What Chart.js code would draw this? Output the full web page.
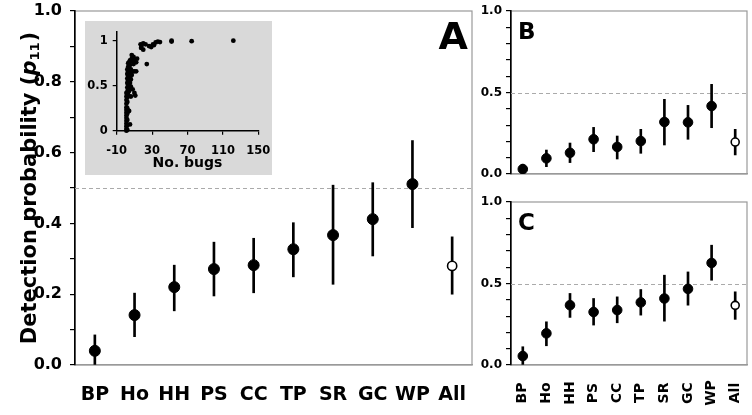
<!DOCTYPE html>
<html>
<head>
<meta charset="utf-8">
<script src="https://cdn.jsdelivr.net/npm/chart.js@4.4.1/dist/chart.umd.min.js"></script>
<style>
  html, body { margin: 0; padding: 0; background: #fff; }
  #wrap { position: relative; width: 752px; height: 415px; overflow: hidden; }
  .box { position: absolute; }
</style>
</head>
<body>
<div id="wrap">
  <div class="box" style="left:0;top:0;width:480px;height:415px"><canvas id="chartA" width="480" height="415"></canvas></div>
  <div class="box" style="left:85px;top:21px;width:187px;height:154px;background:#d9d9d9"><canvas id="inset" width="187" height="154"></canvas></div>
  <div class="box" style="left:480px;top:0;width:272px;height:190px"><canvas id="chartB" width="272" height="190"></canvas></div>
  <div class="box" style="left:480px;top:190px;width:272px;height:225px"><canvas id="chartC" width="272" height="225"></canvas></div>
</div>
<script>
// sites (x categories)
const sites = ['BP', 'Ho', 'HH', 'PS', 'CC', 'TP', 'SR', 'GC', 'WP', 'All'];

// panel A: detection probability with lower / upper interval
const pA  = [0.040, 0.141, 0.220, 0.271, 0.282, 0.327, 0.367, 0.412, 0.511, 0.280];
const loA = [0.000, 0.080, 0.153, 0.195, 0.204, 0.249, 0.228, 0.308, 0.388, 0.200];
const hiA = [0.085, 0.203, 0.282, 0.347, 0.358, 0.402, 0.508, 0.515, 0.634, 0.362];

// panel B
const pB  = [0.030, 0.096, 0.130, 0.213, 0.166, 0.202, 0.319, 0.317, 0.417, 0.196];
const loB = [0.005, 0.045, 0.070, 0.137, 0.092, 0.127, 0.178, 0.213, 0.284, 0.117];
const hiB = [0.060, 0.147, 0.190, 0.286, 0.233, 0.274, 0.458, 0.421, 0.550, 0.274];

// panel C
const pC  = [0.055, 0.194, 0.367, 0.325, 0.337, 0.384, 0.408, 0.467, 0.626, 0.366];
const loC = [0.000, 0.118, 0.292, 0.245, 0.259, 0.306, 0.269, 0.367, 0.520, 0.280];
const hiC = [0.112, 0.265, 0.439, 0.408, 0.418, 0.463, 0.551, 0.571, 0.735, 0.449];

// inset: number of bugs vs detection probability
const bugsX = [
  1,1,1,1,1,1,1,1,1,1,1,1,1,1,
  2,2,2,2,2,2,2,2,2,2,2,2,2,
  3,3,3,3,3,3,3,3,
  4,4,4,4,4,4,4,4,
  5,5,5,5,5,5,5,
  6,6,6,6,
  7,7,7,
  8,8,8,
  9,9,
  10,10,10,
  11,
  12,12,
  13,
  17,17.6,18,20,20,22.6,24,26.5,29,31,32,34,36.5,38.9,52,52,74.7,121.8
];
const detY = [
  0,0.02,0.05,0.08,0.11,0.14,0.17,0.2,0.23,0.26,0.3,0.34,0.38,0.42,
  0.01,0.06,0.12,0.19,0.25,0.32,0.37,0.43,0.48,0.53,0.58,0.63,0.68,
  0.4,0.46,0.51,0.56,0.61,0.66,0.71,0.75,
  0.22,0.44,0.5,0.55,0.6,0.65,0.7,0.76,
  0.07,0.47,0.53,0.59,0.64,0.73,0.78,
  0.38,0.49,0.57,0.68,
  0.62,0.8,0.84,
  0.46,0.66,0.77,
  0.82,0.74,
  0.42,0.66,0.79,
  0.39,
  0.76,0.66,
  0.8,
  0.96,0.92,0.94,0.97,0.9,0.96,0.74,0.94,0.93,0.96,0.95,0.98,0.99,0.985,0.99,1.0,0.995,1.0
];
const insetXTicks = [-10, 30, 70, 110, 150];
const insetYTicks = [0, 0.5, 1];

const threshold = 0.5;
const FONT = 'DejaVu Sans';

function noPad(scale) {
  scale.paddingTop = 0; scale.paddingBottom = 0;
  scale.paddingLeft = 0; scale.paddingRight = 0;
}

const framePlugin = {
  id: 'frame',
  beforeDraw(chart) {
    const a = chart.chartArea, ctx = chart.ctx;
    ctx.save();
    ctx.strokeStyle = '#999';
    ctx.lineWidth = 1.2;
    ctx.strokeRect(a.left, a.top, a.right - a.left, a.bottom - a.top);
    ctx.restore();
  },
  beforeDatasetsDraw(chart) {
    const a = chart.chartArea, ctx = chart.ctx;
    const y = chart.scales.y.getPixelForValue(threshold);
    ctx.save();
    ctx.strokeStyle = '#aaa';
    ctx.lineWidth = 1;
    ctx.setLineDash([4, 3]);
    ctx.beginPath();
    ctx.moveTo(a.left, Math.round(y) + 0.5);
    ctx.lineTo(a.right, Math.round(y) + 0.5);
    ctx.stroke();
    ctx.restore();
  }
};

function panel(id, p, lo, hi, s) {
  const n = p.length;
  const ext = {
    id: 'ext' + id,
    afterDraw(chart) {
      const ctx = chart.ctx;
      ctx.save();
      ctx.fillStyle = '#000';
      ctx.font = 'bold ' + s.letterSize + 'px ' + FONT;
      ctx.textAlign = s.letterAlign;
      ctx.textBaseline = 'alphabetic';
      ctx.fillText(s.letter, s.letterX, s.letterY);
      if (s.rotLabels) {
        const xs = chart.scales.x;
        ctx.font = 'bold 14px ' + FONT;
        ctx.textAlign = 'center';
        ctx.textBaseline = 'middle';
        sites.forEach((t, i) => {
          ctx.save();
          ctx.translate(xs.getPixelForValue(i), s.rotY);
          ctx.rotate(-Math.PI / 2);
          ctx.fillText(t, 0, 0);
          ctx.restore();
        });
      }
      if (s.yTitle) {
        const big = 'bold 21px ' + FONT, ital = 'bold italic 21px ' + FONT, sub = 'bold 13px ' + FONT;
        const parts = [['Detection probability (', big, 0], ['p', ital, 0], ['11', sub, 5], [')', big, 0]];
        let total = 0;
        parts.forEach(pt => { ctx.font = pt[1]; total += ctx.measureText(pt[0]).width + (pt[0] === '11' ? 1 : 0); });
        ctx.translate(31, 188);
        ctx.rotate(-Math.PI / 2);
        ctx.textAlign = 'left';
        ctx.textBaseline = 'middle';
        let x = -total / 2;
        parts.forEach(pt => {
          ctx.font = pt[1];
          ctx.fillText(pt[0], x, pt[2]);
          x += ctx.measureText(pt[0]).width + (pt[0] === '11' ? 1 : 0);
        });
      }
      ctx.restore();
    }
  };
  return new Chart(document.getElementById(id), {
    type: 'bar',
    data: {
      labels: sites,
      datasets: [
        {
          type: 'line',
          data: p,
          showLine: false,
          order: 0,
          pointRadius: p.map((v, i) => i === n - 1 ? s.openR : s.r),
          pointBackgroundColor: p.map((v, i) => i === n - 1 ? '#fff' : '#000'),
          pointBorderColor: '#000',
          pointBorderWidth: p.map((v, i) => i === n - 1 ? 1.6 : 1)
        },
        {
          type: 'bar',
          data: lo.map((v, i) => [v, hi[i]]),
          order: 1,
          backgroundColor: '#000',
          borderWidth: 0,
          barThickness: s.barW
        }
      ]
    },
    options: {
      responsive: false,
      animation: false,
      events: [],
      layout: { autoPadding: false, padding: { top: s.padTop, right: s.padRight, left: 0, bottom: 0 } },
      plugins: { legend: { display: false }, tooltip: { enabled: false } },
      scales: {
        x: {
          offset: true,
          grid: { display: false },
          border: { display: true, color: '#999', width: 1.2 },
          ticks: {
            display: s.xLabels,
            color: '#000',
            padding: s.xPad,
            maxRotation: 0,
            font: { family: FONT, size: 19, weight: 'bold' }
          },
          afterFit(scale) { scale.height = s.xH; noPad(scale); }
        },
        y: {
          min: 0,
          max: 1,
          grid: { display: true, drawOnChartArea: false, drawTicks: true, tickLength: 5, color: '#000', lineWidth: 1.2 },
          border: { display: true, color: '#000', width: 1.6 },
          ticks: {
            stepSize: 0.1,
            color: '#000',
            padding: s.yPad,
            autoSkip: false,
            font: { family: FONT, size: s.yFont, weight: 'bold' },
            callback(v) {
              const k = Math.round(v * 10);
              return k % s.yLabelEvery === 0 ? (k / 10).toFixed(1) : '';
            }
          },
          afterFit(scale) { scale.width = s.yW; noPad(scale); }
        }
      }
    },
    plugins: [framePlugin, ext]
  });
}

panel('chartA', pA, loA, hiA, {
  r: 5.5, openR: 4.6, barW: 2, padTop: 11, padRight: 8, xH: 50, yW: 75, xPad: 11, yPad: 8, yFont: 16,
  xLabels: true, yLabelEvery: 2, letter: 'A', letterSize: 38, letterAlign: 'right', letterX: 468, letterY: 49,
  yTitle: true
});
panel('chartB', pB, loB, hiB, {
  r: 4.8, openR: 4, barW: 2, padTop: 11, padRight: 5, xH: 16, yW: 31, xPad: 0, yPad: 4, yFont: 12,
  xLabels: false, yLabelEvery: 5, letter: 'B', letterSize: 23, letterAlign: 'left', letterX: 38, letterY: 39
});
panel('chartC', pC, loC, hiC, {
  r: 4.8, openR: 4, barW: 2, padTop: 12, padRight: 5, xH: 50, yW: 31, xPad: 0, yPad: 4, yFont: 12,
  xLabels: false, yLabelEvery: 5, letter: 'C', letterSize: 23, letterAlign: 'left', letterX: 38, letterY: 40,
  rotLabels: true, rotY: 203
});

// inset scatter
new Chart(document.getElementById('inset'), {
  type: 'scatter',
  data: {
    datasets: [{
      data: bugsX.map((x, i) => ({ x: x, y: detY[i] })),
      pointRadius: 2.4,
      pointBackgroundColor: '#000',
      pointBorderWidth: 0,
      clip: false
    }]
  },
  options: {
    responsive: false,
    animation: false,
    events: [],
    layout: { autoPadding: false, padding: { top: 10.7, right: 13.7, left: 0, bottom: 0 } },
    plugins: { legend: { display: false }, tooltip: { enabled: false } },
    scales: {
      x: {
        type: 'linear',
        min: -10,
        max: 150,
        grid: { display: true, drawOnChartArea: false, drawTicks: true, tickLength: 4, color: '#000', lineWidth: 1.2 },
        border: { display: true, color: '#000', width: 1.5 },
        ticks: { color: '#000', padding: 9, maxRotation: 0, font: { family: FONT, size: 11.5, weight: 'bold' },
                 callback: v => String(v) },
        afterBuildTicks(scale) { scale.ticks = insetXTicks.map(v => ({ value: v })); },
        title: { display: true, text: 'No. bugs', color: '#000', font: { family: FONT, size: 14, weight: 'bold' }, padding: { top: 0, bottom: 3 } },
        afterFit(scale) { scale.height = 44.3; noPad(scale); }
      },
      y: {
        min: 0,
        max: 1.1,
        grid: { display: true, drawOnChartArea: false, drawTicks: true, tickLength: 4, color: '#000', lineWidth: 1.2 },
        border: { display: true, color: '#000', width: 1.5 },
        ticks: { color: '#000', padding: 5, font: { family: FONT, size: 11.5, weight: 'bold' },
                 callback: v => String(v) },
        afterBuildTicks(scale) { scale.ticks = insetYTicks.map(v => ({ value: v })); },
        afterFit(scale) { scale.width = 31.7; noPad(scale); }
      }
    }
  }
});
</script>
</body>
</html>
